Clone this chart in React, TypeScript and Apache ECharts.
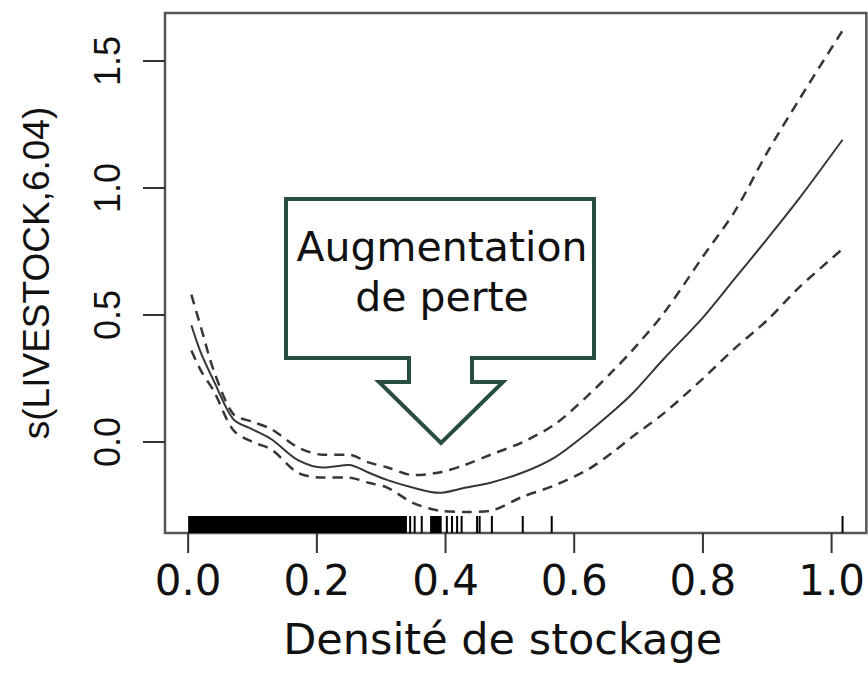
import React, { useEffect, useRef } from "react";
import * as echarts from "echarts";

// ---- data ----
const xs = [0.005, 0.02, 0.04, 0.07, 0.1, 0.13, 0.17, 0.21, 0.25, 0.28, 0.31, 0.35, 0.39, 0.43, 0.47, 0.52, 0.57, 0.62, 0.66, 0.69, 0.74, 0.8, 0.85, 0.9, 0.95, 1.017];
const fit = [0.46, 0.35, 0.24, 0.09, 0.05, 0.01, -0.07, -0.1, -0.09, -0.12, -0.15, -0.18, -0.2, -0.18, -0.16, -0.12, -0.06, 0.035, 0.12, 0.19, 0.33, 0.49, 0.645, 0.8, 0.96, 1.19];
const upper = [0.58, 0.45, 0.28, 0.11, 0.08, 0.05, -0.02, -0.05, -0.05, -0.08, -0.1, -0.13, -0.12, -0.09, -0.05, 0.0, 0.07, 0.18, 0.28, 0.36, 0.51, 0.73, 0.91, 1.14, 1.35, 1.62];
const lower = [0.36, 0.28, 0.2, 0.047, 0.0, -0.03, -0.12, -0.14, -0.14, -0.16, -0.18, -0.24, -0.27, -0.275, -0.27, -0.215, -0.17, -0.11, -0.04, 0.02, 0.115, 0.25, 0.37, 0.48, 0.61, 0.76];
const rugTicks = [0.345, 0.352, 0.363, 0.402, 0.41, 0.418, 0.425, 0.449, 0.453, 0.472, 0.52, 0.565, 1.017];
const rugBlocks = [[0.0, 0.34], [0.376, 0.394]];
const xTickValues = [0, 0.2, 0.4, 0.6, 0.8, 1.0];
const yTickValues = [0, 0.5, 1.0, 1.5];
const xName = "Densité de stockage";
const yName = "s(LIVESTOCK,6.04)";
const calloutLines = ["Augmentation", "de perte"];

const X_MIN = -0.036;
const X_MAX = 1.054;
const Y_MIN = -0.358;
const Y_MAX = 1.689;
const RUG_TOP = -0.291;
const X_TICK_LEN = 20;

export default function App() {
  const ref = useRef<HTMLDivElement>(null);
  useEffect(() => {
    document.body.style.margin = "0";
    const chart = echarts.init(ref.current!, null, { renderer: "svg" });
    const pairs = (ys: number[]) => xs.map((x, i) => [x, ys[i]]);
    const lineColor = "#363636";
    chart.setOption({
      animation: false,
      backgroundColor: "#ffffff",
      grid: {
        left: 165,
        top: 13,
        right: 1,
        bottom: 164,
        show: true,
        borderColor: "#555555",
        borderWidth: 2.5,
        backgroundColor: "#ffffff",
      },
      xAxis: {
        type: "value",
        min: X_MIN,
        max: X_MAX,
        axisLine: { show: false, onZero: false },
        splitLine: { show: false },
        axisTick: { show: false },
        axisLabel: {
          customValues: xTickValues,
          formatter: (v: number) => v.toFixed(1),
          fontFamily: "DejaVu Sans",
          fontSize: 42,
          color: "#111",
          margin: 26,
        },
        name: xName,
        nameLocation: "middle",
        nameGap: 84,
        nameTextStyle: {
          fontFamily: "DejaVu Sans",
          fontSize: 43,
          color: "#111",
          padding: [0, 26, 0, 0],
        },
      },
      yAxis: {
        type: "value",
        min: Y_MIN,
        max: Y_MAX,
        axisLine: { show: false, onZero: false },
        splitLine: { show: false },
        axisTick: {
          show: true,
          customValues: yTickValues,
          inside: false,
          length: 22,
          lineStyle: { color: "#333", width: 2 },
        },
        axisLabel: {
          customValues: yTickValues,
          formatter: (v: number) => v.toFixed(1),
          fontFamily: "Liberation Sans",
          fontSize: 36,
          color: "#111",
          rotate: 90,
          margin: 40,
        },
        name: yName,
        nameLocation: "middle",
        nameGap: 110,
        nameTextStyle: {
          fontFamily: "Liberation Sans",
          fontSize: 37,
          color: "#111",
        },
      },
      series: [
        {
          type: "line",
          data: pairs(fit),
          smooth: 0.3,
          symbol: "none",
          lineStyle: { color: lineColor, width: 2 },
          z: 3,
        },
        {
          type: "line",
          data: pairs(upper),
          smooth: 0.3,
          symbol: "none",
          lineStyle: { color: lineColor, width: 2.5, type: [10, 7] },
          z: 3,
        },
        {
          type: "line",
          data: pairs(lower),
          smooth: 0.3,
          symbol: "none",
          lineStyle: { color: lineColor, width: 2.5, type: [10, 7] },
          z: 3,
        },
        {
          type: "custom",
          data: rugBlocks.map((b) => [b[0], b[1]]),
          encode: { x: [0, 1] },
          renderItem: (params: any, api: any) => {
            const a = api.coord([api.value(0), RUG_TOP]);
            const b = api.coord([api.value(1), Y_MIN]);
            return {
              type: "rect",
              shape: { x: a[0], y: a[1], width: b[0] - a[0], height: b[1] - a[1] },
              style: { fill: "#000" },
            };
          },
          z: 4,
        },
        {
          type: "custom",
          data: rugTicks.map((v) => [v, RUG_TOP]),
          renderItem: (params: any, api: any) => {
            const a = api.coord([api.value(0), RUG_TOP]);
            const b = api.coord([api.value(0), Y_MIN]);
            return {
              type: "line",
              shape: { x1: a[0], y1: a[1], x2: b[0], y2: b[1] },
              style: { stroke: "#000", lineWidth: 2 },
            };
          },
          z: 4,
        },
        {
          // x-axis tick marks (outside, below the frame)
          type: "custom",
          clip: false,
          silent: true,
          data: xTickValues.map((v) => [v, Y_MIN]),
          renderItem: (params: any, api: any) => {
            const a = api.coord([api.value(0), Y_MIN]);
            return {
              type: "line",
              shape: { x1: a[0], y1: a[1], x2: a[0], y2: a[1] + X_TICK_LEN },
              style: { stroke: "#333", lineWidth: 2 },
            };
          },
          z: 5,
        },
      ],
      graphic: [
        {
          type: "polygon",
          z: 10,
          shape: {
            points: [
              [286, 199], [594, 199], [594, 358], [472, 358], [472, 382], [503, 382],
              [441, 443], [379, 382], [409, 382], [409, 358], [286, 358],
            ],
          },
          style: { fill: "#ffffff", stroke: "#2a4d42", lineWidth: 4, lineJoin: "miter" },
        },
        {
          type: "text",
          z: 11,
          x: 442,
          y: 272,
          style: {
            text: calloutLines.join("\n"),
            fontFamily: "DejaVu Sans",
            fontSize: 41,
            lineHeight: 50,
            fill: "#111",
            align: "center",
            verticalAlign: "middle",
          },
        },
      ],
    });
    return () => chart.dispose();
  }, []);
  return <div ref={ref} style={{ width: 868, height: 697 }} />;
}
